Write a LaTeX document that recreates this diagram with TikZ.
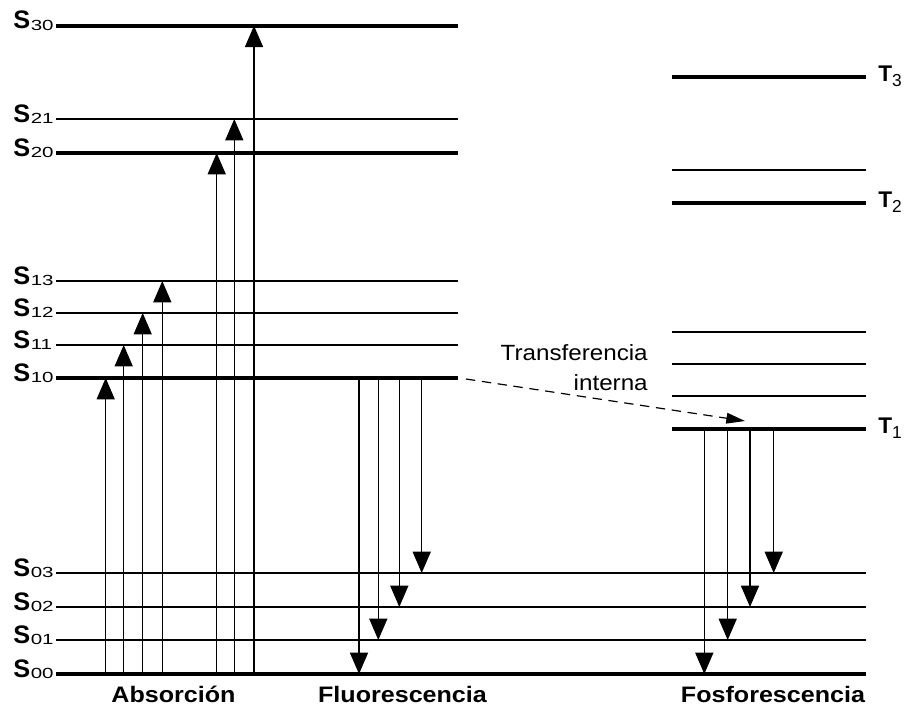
\documentclass[tikz,border=0pt]{standalone}
\usepackage{fontspec}
\setmainfont{Liberation Sans}
\usetikzlibrary{arrows.meta}

\tikzset{
  thinlevel/.style={line width=1.1pt},
  thicklevel/.style={line width=3pt},
  trans/.style={line width=1.1pt, -{Triangle[length=16pt,width=13.5pt]}},
  transfer/.style={line width=0.9pt, dash pattern=on 7pt off 5pt,
    -{Triangle[length=14pt,width=8pt]}},
  slabel/.style={anchor=base west, inner sep=0pt},
  tlabel/.style={anchor=base west, inner sep=0pt},
  caption/.style={anchor=base, inner sep=0pt, font=\fontsize{16.8}{18}\selectfont\bfseries, xscale=1.12, transform shape},
  note/.style={anchor=base east, inner sep=0pt, font=\fontsize{16.5}{18}\selectfont, xscale=1.1, transform shape}
}

% singlet label: bold S with a wide, small index
\newcommand{\slev}[1]{{\fontsize{19}{20}\selectfont\bfseries S}\hspace{0.5pt}\raisebox{-1pt}{\scalebox{1.4}[1]{\fontsize{11}{12}\selectfont #1}}}
% triplet label: bold T with a subscript index
\newcommand{\tlev}[1]{{\fontsize{17}{18}\selectfont\bfseries T}\raisebox{-4pt}{\fontsize{13}{14}\selectfont #1}}

\begin{document}
\begin{tikzpicture}[x=0.75pt,y=-0.75pt]
\useasboundingbox (0,0) rectangle (906,711);

% ---- singlet levels (left) ----
\coordinate (S00l) at (56,674);   \coordinate (S00r) at (866,674);
\coordinate (S01l) at (56,640);   \coordinate (S01r) at (866,640);
\coordinate (S02l) at (56,607);   \coordinate (S02r) at (866,607);
\coordinate (S03l) at (56,573);   \coordinate (S03r) at (866,573);
\coordinate (S10l) at (56,378);   \coordinate (S10r) at (458,378);
\coordinate (S11l) at (56,345);   \coordinate (S11r) at (458,345);
\coordinate (S12l) at (56,313);   \coordinate (S12r) at (458,313);
\coordinate (S13l) at (56,281);   \coordinate (S13r) at (458,281);
\coordinate (S20l) at (56,153);   \coordinate (S20r) at (458,153);
\coordinate (S21l) at (56,119);   \coordinate (S21r) at (458,119);
\coordinate (S30l) at (56,25.7);  \coordinate (S30r) at (458,25.7);

\draw[thicklevel] (S00l) -- (S00r);
\draw[thinlevel]  (S01l) -- (S01r);
\draw[thinlevel]  (S02l) -- (S02r);
\draw[thinlevel]  (S03l) -- (S03r);
\draw[thicklevel] (S10l) -- (S10r);
\draw[thinlevel]  (S11l) -- (S11r);
\draw[thinlevel]  (S12l) -- (S12r);
\draw[thinlevel]  (S13l) -- (S13r);
\draw[thicklevel] (S20l) -- (S20r);
\draw[thinlevel]  (S21l) -- (S21r);
\draw[thicklevel] (S30l) -- (S30r);

% ---- triplet levels (right) ----
\coordinate (T1l) at (672,429);   \coordinate (T1r) at (866,429);
\coordinate (T1al) at (672,396);  \coordinate (T1ar) at (866,396);
\coordinate (T1bl) at (672,364);  \coordinate (T1br) at (866,364);
\coordinate (T1cl) at (672,332);  \coordinate (T1cr) at (866,332);
\coordinate (T2l) at (672,203);   \coordinate (T2r) at (866,203);
\coordinate (T2al) at (672,170);  \coordinate (T2ar) at (866,170);
\coordinate (T3l) at (672,76.7);  \coordinate (T3r) at (866,76.7);

\draw[thicklevel] (T1l) -- (T1r);
\draw[thinlevel]  (T1al) -- (T1ar);
\draw[thinlevel]  (T1bl) -- (T1br);
\draw[thinlevel]  (T1cl) -- (T1cr);
\draw[thicklevel] (T2l) -- (T2r);
\draw[thinlevel]  (T2al) -- (T2ar);
\draw[thicklevel] (T3l) -- (T3r);

% ---- level labels ----
\node[slabel] (lS30) at (13,28.7) {\slev{30}};
\node[slabel] (lS21) at (13,122) {\slev{21}};
\node[slabel] (lS20) at (13,156) {\slev{20}};
\node[slabel] (lS13) at (13,284) {\slev{13}};
\node[slabel] (lS12) at (13,316) {\slev{12}};
\node[slabel] (lS11) at (13,348) {\slev{11}};
\node[slabel] (lS10) at (13,381) {\slev{10}};
\node[slabel] (lS03) at (13,576) {\slev{03}};
\node[slabel] (lS02) at (13,610) {\slev{02}};
\node[slabel] (lS01) at (13,643) {\slev{01}};
\node[slabel] (lS00) at (13,677) {\slev{00}};

\node[tlabel] (lT3) at (878,81) {\tlev{3}};
\node[tlabel] (lT2) at (878,207) {\tlev{2}};
\node[tlabel] (lT1) at (878,433) {\tlev{1}};

% ---- absorption ----
\coordinate (a1) at (105.7,0);
\coordinate (a2) at (123.7,0);
\coordinate (a3) at (142.7,0);
\coordinate (a4) at (162.3,0);
\coordinate (a5) at (216.7,0);
\coordinate (a6) at (234.3,0);
\coordinate (a7) at (254,0);
\draw[trans] (a1 |- S00l) -- (a1 |- S10l);
\draw[trans] (a2 |- S00l) -- (a2 |- S11l);
\draw[trans] (a3 |- S00l) -- (a3 |- S12l);
\draw[trans] (a4 |- S00l) -- (a4 |- S13l);
\draw[trans] (a5 |- S00l) -- (a5 |- S20l);
\draw[trans] (a6 |- S00l) -- (a6 |- S21l);
\draw[trans] (a7 |- S00l) -- (a7 |- S30l);

% ---- fluorescence ----
\coordinate (f1) at (359,0);
\coordinate (f2) at (378.3,0);
\coordinate (f3) at (399.3,0);
\coordinate (f4) at (421.7,0);
\draw[trans] (f1 |- S10l) -- (f1 |- S00l);
\draw[trans] (f2 |- S10l) -- (f2 |- S01l);
\draw[trans] (f3 |- S10l) -- (f3 |- S02l);
\draw[trans] (f4 |- S10l) -- (f4 |- S03l);

% ---- phosphorescence ----
\coordinate (p1) at (704.3,0);
\coordinate (p2) at (727.7,0);
\coordinate (p3) at (750,0);
\coordinate (p4) at (773.7,0);
\draw[trans] (p1 |- T1l) -- (p1 |- S00l);
\draw[trans] (p2 |- T1l) -- (p2 |- S01l);
\draw[trans] (p3 |- T1l) -- (p3 |- S02l);
\draw[trans] (p4 |- T1l) -- (p4 |- S03l);

% ---- intersystem transfer ----
\coordinate (xs) at (466,379);
\coordinate (xe) at (745,421);
\draw[transfer] (xs) -- (xe);
\node[note] (tr1) at (648,360) {Transferencia};
\node[note] (tr2) at (648,390) {interna};

% ---- captions ----
\node[caption] (cA) at (173.5,702) {Absorción};
\node[caption] (cF) at (402.5,702) {Fluorescencia};
\node[caption] (cP) at (773,702) {Fosforescencia};
\end{tikzpicture}
\end{document}
